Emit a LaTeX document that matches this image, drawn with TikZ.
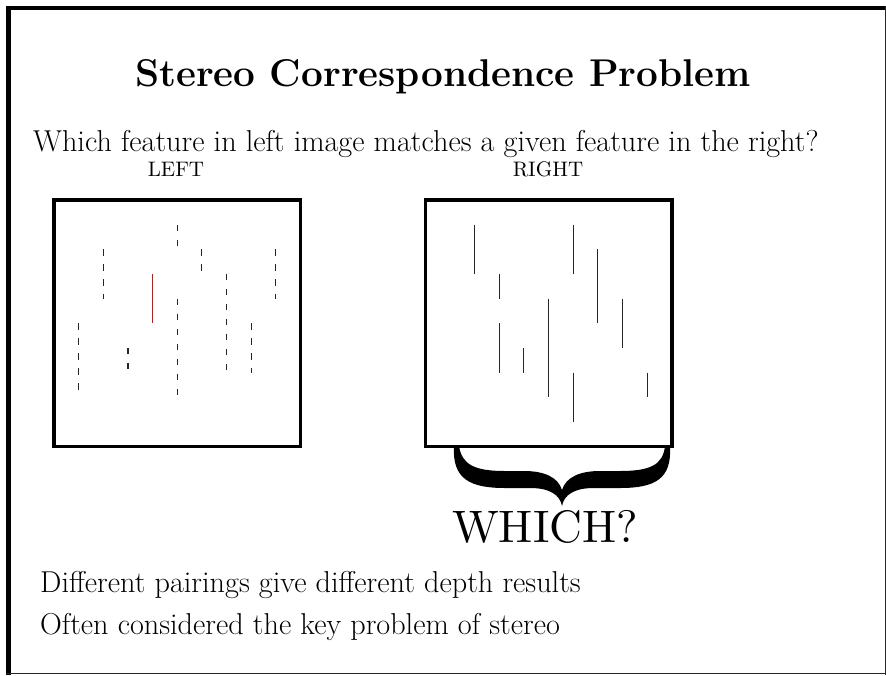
\documentclass[tikz,border=0pt]{standalone}
\usepackage{fontspec}
\IfFontExistsTF{lmroman10-regular.otf}
  {\newfontfamily\lmten{lmroman10-regular.otf}}
  {\newfontfamily\lmten{Latin Modern Roman}}
\begin{document}
\begin{tikzpicture}[x=1pt,y=-1pt,
  body/.style={anchor=base west,inner sep=0pt,font=\fontsize{30.2}{36}\selectfont},
  tlabel/.style={anchor=base,inner sep=0pt,font=\lmten\fontsize{21}{25}\selectfont},
  imgbox/.style={draw=black,line width=3.5pt},
  feat/.style={line width=1.1pt,draw=black!85},
  dfeat/.style={feat,dash pattern=on 6.5pt off 8.5pt},
  rfeat/.style={line width=1.2pt,draw=red}]
\useasboundingbox (0,0) rectangle (886,675);
\fill[white] (0,0) rectangle (886,675);
% frame
\draw[line width=4.5pt] (8.5,6) -- (8.5,675);
\draw[line width=4.5pt] (6,8.2) -- (886,8.2);
\draw[line width=1pt,draw=black!85] (885,6) -- (885,675);
\draw[line width=1pt,draw=black!85] (6,673.5) -- (886,673.5);
% texts
\node[anchor=base,inner sep=0pt,font=\fontsize{38.7}{44}\selectfont\bfseries] (title) at (443,86) {Stereo Correspondence Problem};
\node[body] (q) at (33,151) {Which feature in left image matches a given feature in the right?};
\node[tlabel] (leftlbl) at (176,176) {LEFT};
\node[tlabel] (rightlbl) at (548,176) {RIGHT};
% left image
\begin{scope}[shift={(54,200)},x=24.65pt,y=-24.65pt]
  \draw[imgbox] (0,0) rectangle (10,10);
  \draw[dfeat] (1,5) -- (1,8);
  \draw[dfeat] (2,2) -- (2,4);
  \draw[dfeat] (3,6) -- (3,7);
  \draw[rfeat] (4,3) -- (4,5);
  \draw[dfeat] (5,1) -- (5,2);
  \draw[dfeat] (5,4) -- (5,8);
  \draw[dfeat] (6,2) -- (6,3);
  \draw[dfeat] (7,3) -- (7,7);
  \draw[dfeat] (8,5) -- (8,7);
  \draw[dfeat] (9,2) -- (9,4);
\end{scope}
% right image
\begin{scope}[shift={(425.3,200)},x=24.65pt,y=-24.65pt]
  \draw[imgbox] (0,0) rectangle (10,10);
  \draw[feat] (2,1) -- (2,3);
  \draw[feat] (3,3) -- (3,4);
  \draw[feat] (3,5) -- (3,7);
  \draw[feat] (4,6) -- (4,7);
  \draw[feat] (5,4) -- (5,8);
  \draw[feat] (6,1) -- (6,3);
  \draw[feat] (6,7) -- (6,9);
  \draw[feat] (7,2) -- (7,5);
  \draw[feat] (8,4) -- (8,6);
  \draw[feat] (9,7) -- (9,8);
\end{scope}
% brace
\fill[black] (454,446) .. controls (452,479) and (470,488) .. (505,488) -- (530,488)
  .. controls (550,488) and (560,495) .. (562,506)
  .. controls (564,495) and (574,488) .. (594,488) -- (620,488)
  .. controls (655,488) and (672,479) .. (670,446)
  -- (665,446) .. controls (663,465) and (650,471) .. (620,471) -- (600,471)
  .. controls (580,471) and (566,477) .. (562,490)
  .. controls (558,477) and (544,471) .. (524,471) -- (505,471)
  .. controls (475,471) and (462,465) .. (459,446) -- cycle;
\node[anchor=base,inner sep=0pt,font=\lmten\fontsize{45.5}{52}\selectfont] (which) at (545,542) {WHICH?};
\node[body] (l1) at (40,592) {Different pairings give different depth results};
\node[body] (l2) at (40,634) {Often considered the key problem of stereo};
\end{tikzpicture}
\end{document}
